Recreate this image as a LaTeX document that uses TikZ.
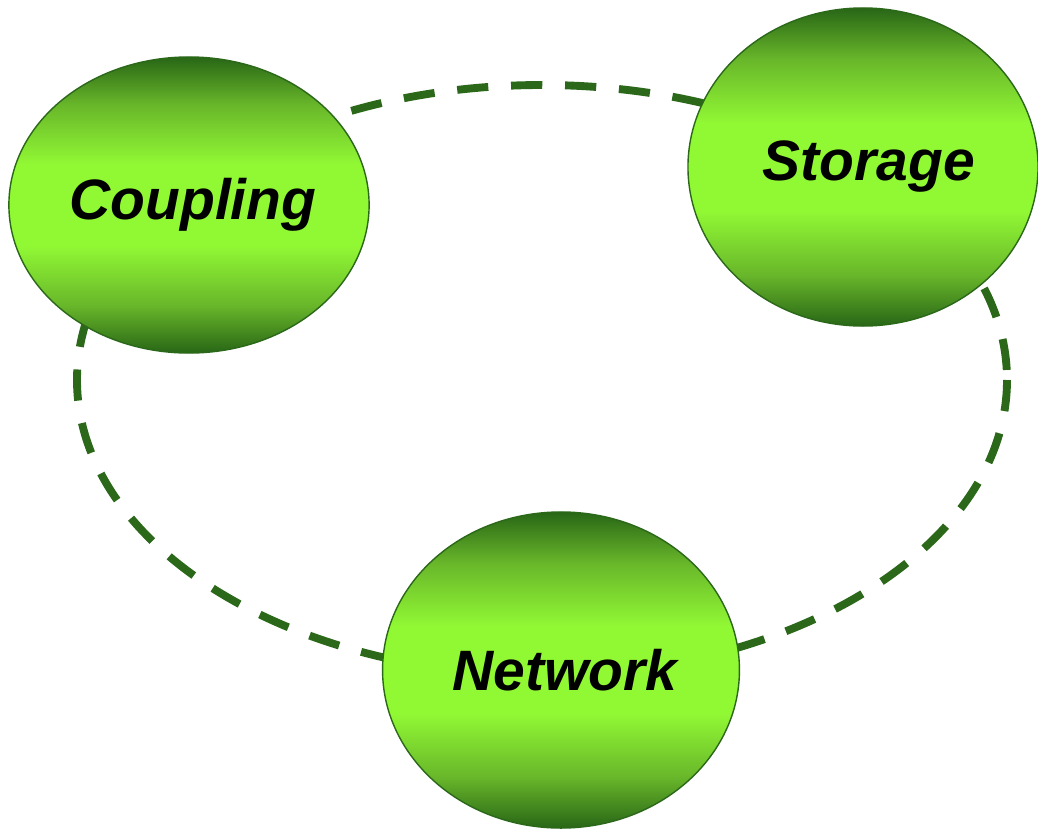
\documentclass[tikz,border=0pt]{standalone}
\usepackage{fontspec}
\setmainfont{Liberation Sans}
\usepackage{tikz}
\usetikzlibrary{shapes.geometric}

\definecolor{darkg}{RGB}{40,102,22}
\definecolor{midg}{RGB}{104,182,42}
\definecolor{lightg}{RGB}{145,248,52}
\definecolor{ringg}{RGB}{43,104,26}

\pgfdeclareverticalshading{ballgreen}{100bp}{color(0bp)=(darkg); color(25bp)=(darkg);
  color(33bp)=(midg); color(43bp)=(lightg); color(57bp)=(lightg);
  color(67bp)=(midg); color(75bp)=(darkg); color(100bp)=(darkg)}

\begin{document}
\begin{tikzpicture}[x=0.025cm, y=-0.025cm,
    ball/.style={draw=ringg, line width=1pt, ellipse, shading=ballgreen,
      font=\fontsize{40.5}{48}\selectfont\bfseries\itshape, inner sep=0pt},
    ring/.style={draw=ringg, line width=5.6pt, dash pattern=on 0.78cm off 0.57cm}]
        \useasboundingbox (0,0) rectangle (1038,830);

        \coordinate (R) at (542,380);
        \draw[ring] (R) ellipse [x radius=465, y radius=295];

        \node (C) [ball, minimum width=8.95cm, minimum height=7.4cm] at (189,205) {\hspace{0.2cm}Coupling};
        \node (S) [ball, minimum width=8.75cm, minimum height=7.95cm] at (863,167) {\hspace{0.3cm}Storage};
        \node (N) [ball, minimum width=8.92cm, minimum height=7.9cm] at (561,670) {\hspace{0.2cm}Network};
    \end{tikzpicture}
\end{document}
